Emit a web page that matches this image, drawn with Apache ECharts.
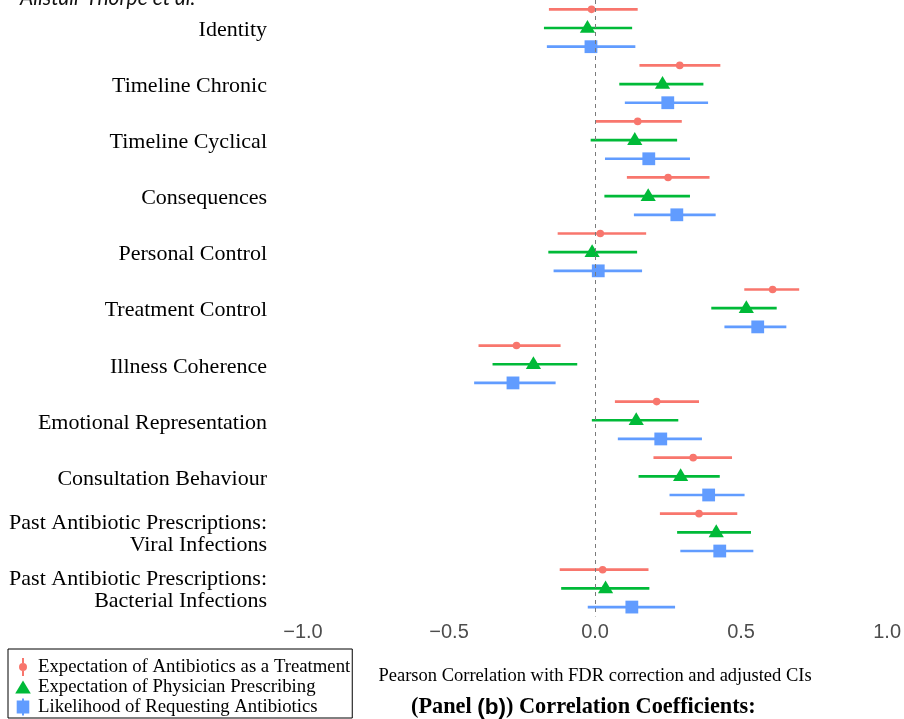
<!DOCTYPE html>
<html>
<head>
<meta charset="utf-8">
<script src="https://cdn.jsdelivr.net/npm/echarts@6/dist/echarts.min.js"></script>
<style>
html,body{margin:0;padding:0;background:#fff;}
#chart{width:904px;height:719px;}
</style>
</head>
<body>
<div id="chart"></div>
<script>
const categories = [
  'Identity', 'Timeline Chronic', 'Timeline Cyclical', 'Consequences',
  'Personal Control', 'Treatment Control', 'Illness Coherence',
  'Emotional Representation', 'Consultation Behaviour',
  'Past Antibiotic Prescriptions:\nViral Infections',
  'Past Antibiotic Prescriptions:\nBacterial Infections'
];
const seriesNames = [
  'Expectation of Antibiotics as a Treatment',
  'Expectation of Physician Prescribing',
  'Likelihood of Requesting Antibiotics'
];
// Expectation of Antibiotics as a Treatment
const treatEst = [-0.012, 0.290, 0.146, 0.250, 0.018, 0.608, -0.269, 0.211, 0.336, 0.356, 0.026];
const treatLo  = [-0.158, 0.152, 0.002, 0.109, -0.128, 0.511, -0.399, 0.068, 0.200, 0.222, -0.121];
const treatHi  = [0.146, 0.429, 0.297, 0.392, 0.175, 0.699, -0.118, 0.356, 0.469, 0.487, 0.183];
// Expectation of Physician Prescribing
const prescEst = [-0.026, 0.231, 0.136, 0.182, -0.010, 0.518, -0.211, 0.141, 0.293, 0.415, 0.036];
const prescLo  = [-0.175, 0.083, -0.015, 0.032, -0.160, 0.398, -0.351, -0.011, 0.149, 0.281, -0.116];
const prescHi  = [0.127, 0.371, 0.281, 0.325, 0.144, 0.622, -0.061, 0.285, 0.427, 0.534, 0.186];
// Likelihood of Requesting Antibiotics
const reqEst = [-0.014, 0.249, 0.184, 0.280, 0.011, 0.557, -0.281, 0.225, 0.389, 0.427, 0.126];
const reqLo  = [-0.165, 0.102, 0.034, 0.133, -0.142, 0.443, -0.414, 0.078, 0.255, 0.292, -0.025];
const reqHi  = [0.138, 0.387, 0.325, 0.413, 0.161, 0.655, -0.135, 0.366, 0.512, 0.542, 0.274];

const xTicks = [-1.0, -0.5, 0.0, 0.5, 1.0];

const colors = ['#F8766D', '#00BA38', '#619CFF'];
const shapes = ['circle', 'triangle', 'square'];
const dodge = [-1/3, 0, 1/3];
const icons = [
  'path://M0,0M20,20M9,1H11V6H9Z M9,14H11V19H9Z M14,10A4,4,0,1,1,6,10A4,4,0,1,1,14,10Z',
  'path://M0,0M20,20M10,3.5L17.8,16.5L2.2,16.5Z',
  'path://M0,0M20,20M3.7,3.5H16.3V16.5H3.7Z M9,1.5H11V3.5H9Z M9,16.5H11V18.5H9Z'
];

function build(est, lo, hi) {
  return categories.map((c, i) => [est[i], i, lo[i], hi[i]]);
}
const allData = [build(treatEst, treatLo, treatHi), build(prescEst, prescLo, prescHi), build(reqEst, reqLo, reqHi)];

function makeRender(k) {
  return function (params, api) {
    const ci = api.value(1);
    const c = api.coord([api.value(0), ci]);
    const band = api.size([0, 1])[1];
    const y = c[1] + dodge[k] * band;
    const xl = api.coord([api.value(2), ci])[0];
    const xh = api.coord([api.value(3), ci])[0];
    const color = colors[k];
    const children = [{
      type: 'line',
      shape: { x1: xl, y1: y, x2: xh, y2: y },
      style: { stroke: color, lineWidth: 2.7 }
    }];
    const x = c[0];
    if (shapes[k] === 'circle') {
      children.push({ type: 'circle', shape: { cx: x, cy: y, r: 3.8 }, style: { fill: color } });
    } else if (shapes[k] === 'triangle') {
      children.push({ type: 'polygon', shape: { points: [[x, y - 8], [x + 7.6, y + 4.8], [x - 7.6, y + 4.8]] }, style: { fill: color } });
    } else {
      children.push({ type: 'rect', shape: { x: x - 6.4, y: y - 6.4, width: 12.8, height: 12.8 }, style: { fill: color } });
    }
    return { type: 'group', children: children };
  };
}

const series = seriesNames.map((name, k) => {
  const s = {
    name: name,
    type: 'custom',
    color: colors[k],
    itemStyle: { color: colors[k] },
    renderItem: makeRender(k),
    encode: { x: [0, 2, 3], y: 1 },
    data: allData[k],
    z: 2
  };
  if (k === 0) {
    s.markLine = {
      silent: true,
      symbol: ['none', 'none'],
      label: { show: false },
      lineStyle: { type: [4, 4], color: '#7a7a7a', width: 1 },
      data: [{ xAxis: 0 }],
      z: 5
    };
  }
  return s;
});

const labelFont = { fontFamily: 'Liberation Serif', fontSize: 22, lineHeight: 23, color: '#000' };

const chart = echarts.init(document.getElementById('chart'), null, { renderer: 'canvas' });
chart.setOption({
  animation: false,
  backgroundColor: '#ffffff',
  grid: { left: 303, right: 16, top: -1.8, bottom: 102.6, containLabel: false },
  xAxis: {
    type: 'value',
    min: xTicks[0],
    max: xTicks[xTicks.length - 1],
    interval: 0.5,
    axisLine: { show: false },
    axisTick: { show: false },
    splitLine: { show: false },
    axisLabel: {
      margin: 6,
      color: '#4D4D4D',
      fontFamily: 'Liberation Sans',
      fontSize: 20,
      formatter: v => v.toFixed(1).replace('-', '\u2212')
    },
    name: 'Pearson Correlation with FDR correction and adjusted CIs',
    nameLocation: 'middle',
    nameGap: 60,
    nameTextStyle: {
      fontFamily: 'Liberation Serif',
      fontSize: 18.5,
      color: '#000',
      verticalAlign: 'middle'
    }
  },
  yAxis: {
    type: 'category',
    data: categories,
    inverse: true,
    axisLine: { show: false },
    axisTick: { show: false },
    splitLine: { show: false },
    axisLabel: {
      margin: 36,
      interval: 0,
      align: 'right',
      formatter: v => v.split('\n').map((l, i) => (i === 0 ? '{f|' : '{n|') + l + '}').join('\n'),
      rich: {
        f: Object.assign({ padding: [5, 0, 0, 0] }, labelFont),
        n: Object.assign({ padding: [2, 0, 0, 0] }, labelFont)
      }
    }
  },
  legend: {
    orient: 'vertical',
    left: 8,
    top: 649,
    padding: [8, 2, 1, 5],
    itemGap: 0,
    itemWidth: 20,
    itemHeight: 20,
    symbolKeepAspect: true,
    borderColor: '#000',
    borderWidth: 1,
    selectedMode: false,
    data: seriesNames.map((n, k) => ({ name: n, icon: icons[k], itemStyle: { color: colors[k] } })),
    textStyle: {
      fontFamily: 'Liberation Serif',
      fontSize: 18.75,
      color: '#000',
      lineHeight: 20
    }
  },
  title: {
    left: 411,
    top: 696,
    padding: 0,
    text: '{a|(Panel }{b|(b)}{a|) Correlation Coefficients:}',
    textStyle: {
      rich: {
        a: { fontFamily: 'Liberation Serif', fontWeight: 'bold', fontSize: 22.3, color: '#000' },
        b: { fontFamily: 'Liberation Sans', fontWeight: 'bold', fontSize: 22.5, color: '#000' }
      }
    }
  },
  graphic: [{
    type: 'text',
    left: 20,
    top: -12,
    style: {
      text: 'Alistair Thorpe et al.',
      fontFamily: 'Lato',
      fontStyle: 'italic',
      fontSize: 21,
      fill: '#111'
    }
  }],
  series: series
});
</script>
</body>
</html>
